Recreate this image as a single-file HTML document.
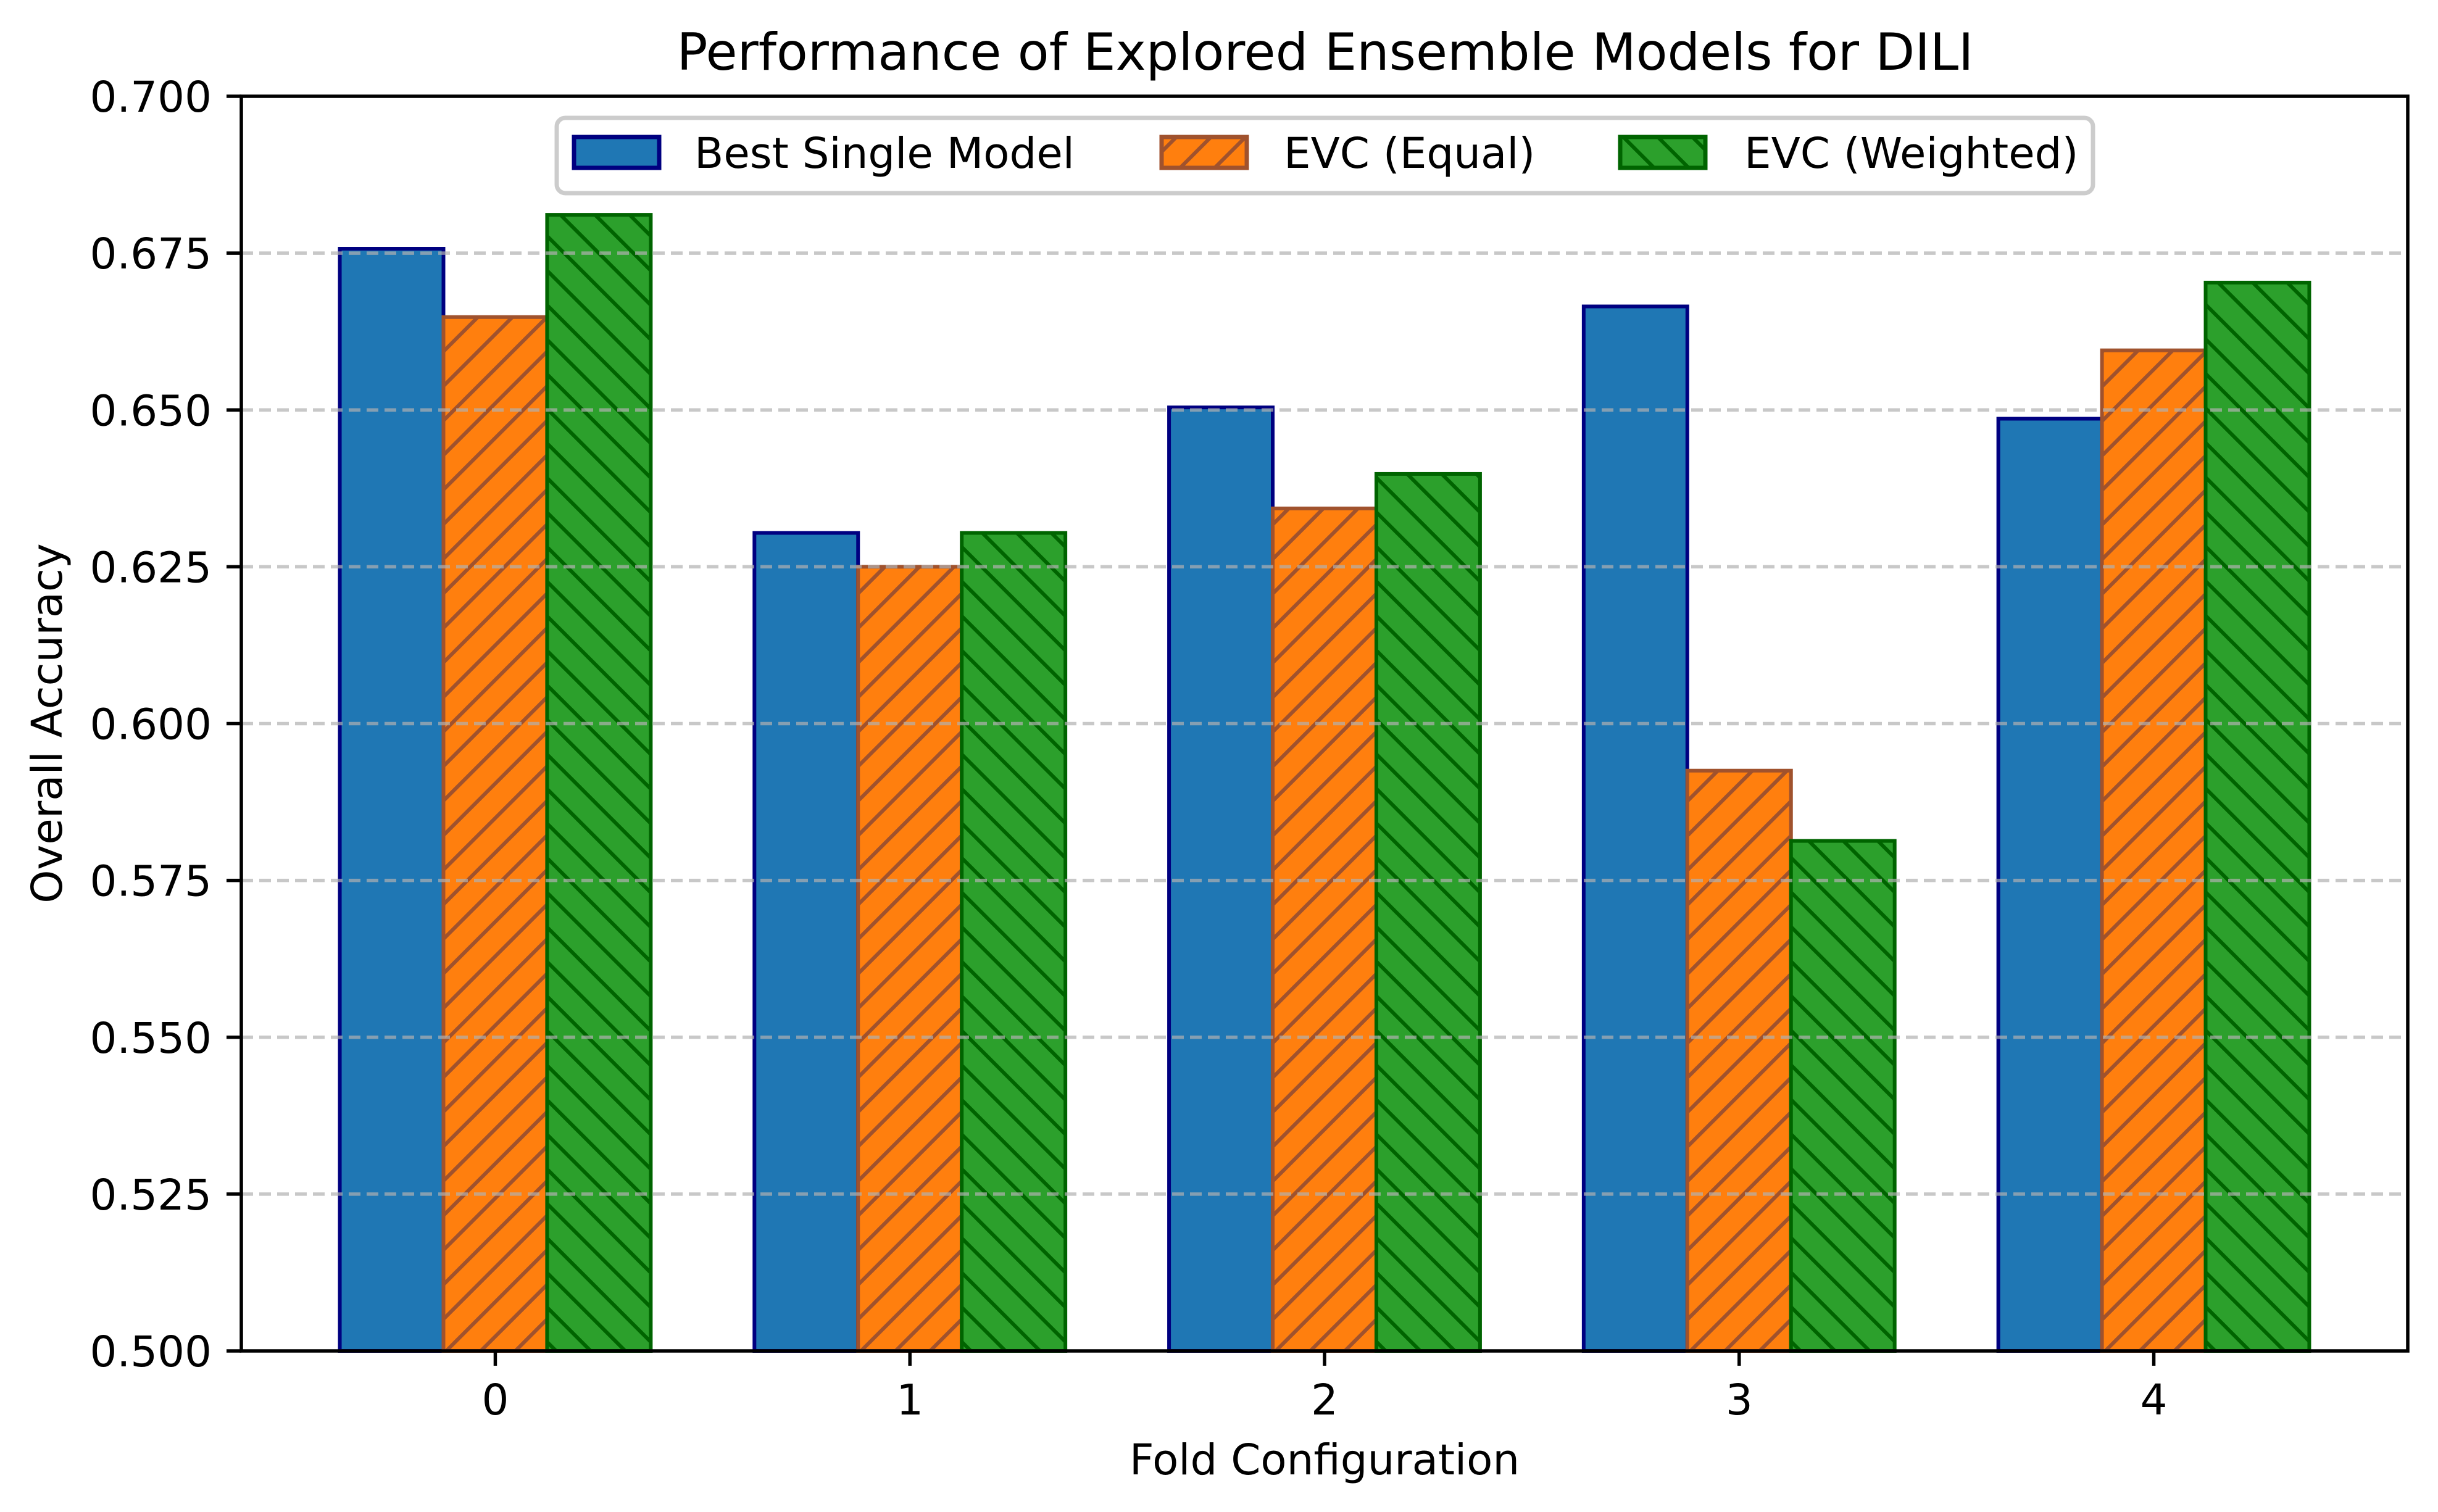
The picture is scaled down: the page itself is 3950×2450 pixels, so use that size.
<!DOCTYPE html>
<html><head><meta charset="utf-8">
<style>
html,body{margin:0;padding:0;background:#fff;}
svg{display:block;font-family:"DejaVu Sans","Liberation Sans",sans-serif;}
</style></head>
<body>
<svg id="chart" width="3950" height="2450" viewBox="0 0 3950 2450" xmlns="http://www.w3.org/2000/svg">
<defs>
<pattern id="hatch-fwd" patternUnits="userSpaceOnUse" width="56" height="56">
<rect width="56" height="56" fill="#ff7f0e"/>
<path d="M-14,14 L14,-14 M0,56 L56,0 M42,70 L70,42" stroke="#a0522d" stroke-width="6"/>
</pattern>
<pattern id="hatch-back" patternUnits="userSpaceOnUse" width="56" height="56">
<rect width="56" height="56" fill="#2ca02c"/>
<path d="M-14,42 L14,70 M0,0 L56,56 M42,-14 L70,14" stroke="#006400" stroke-width="6"/>
</pattern>
</defs>
<rect width="3950" height="2450" fill="#fff"/>
<text x="2147" y="113" font-size="83" text-anchor="middle">Performance of Explored Ensemble Models for DILI</text>
<g id="bars"></g>
<g id="grid"></g>
<g id="axes"></g>
<text x="2146" y="2389" font-size="69" text-anchor="middle">Fold Configuration</text>
<text transform="translate(100,1172) rotate(-90)" font-size="69" text-anchor="middle">Overall Accuracy</text>
<g id="legend">
<rect x="902" y="191" width="2489" height="122" rx="14" fill="#fff" fill-opacity="0.8" stroke="#cccccc" stroke-width="7"/>
<g>
<rect x="930" y="222" width="138" height="50" fill="#1f77b4" stroke="#000080" stroke-width="7"/>
<text x="1125" y="272" font-size="69">Best Single Model</text></g>
<g>
<rect x="1882" y="222" width="138" height="50" fill="url(#hatch-fwd)" stroke="#a0522d" stroke-width="7"/>
<text x="2080" y="272" font-size="69">EVC (Equal)</text></g>
<g>
<rect x="2625" y="222" width="138" height="50" fill="url(#hatch-back)" stroke="#006400" stroke-width="7"/>
<text x="2826" y="272" font-size="69">EVC (Weighted)</text></g>
</g>
</svg>
<script>
const folds = ["0","1","2","3","4"];
const bestSingle = [0.6757, 0.6304, 0.6504, 0.6665, 0.6486];
const evcEqual = [0.6648, 0.6250, 0.6343, 0.5925, 0.6595];
const evcWeighted = [0.6811, 0.6304, 0.6398, 0.5813, 0.6703];
const yTicks = [0.500, 0.525, 0.550, 0.575, 0.600, 0.625, 0.650, 0.675, 0.700];
const yTickLabels = ["0.500","0.525","0.550","0.575","0.600","0.625","0.650","0.675","0.700"];

const NS = "http://www.w3.org/2000/svg";
const L = 391, R = 3901, T = 156, B = 2189;
const xMin = -0.6125, xMax = 4.6125, yMin = 0.5, yMax = 0.7;
function xs(v){ return L + (v - xMin) / (xMax - xMin) * (R - L); }
function ys(v){ return B - (v - yMin) / (yMax - yMin) * (B - T); }
function mk(tag, attrs, parent){ const e = document.createElementNS(NS, tag); for (const k in attrs) e.setAttribute(k, attrs[k]); parent.appendChild(e); return e; }

const barsG = document.getElementById('bars');
const series = [
  {vals: bestSingle, fill: "#1f77b4", stroke: "#000080", off: -0.25, key: "best-single"},
  {vals: evcEqual, fill: "url(#hatch-fwd)", stroke: "#a0522d", off: 0, key: "evc-equal"},
  {vals: evcWeighted, fill: "url(#hatch-back)", stroke: "#006400", off: 0.25, key: "evc-weighted"}
];
const bw = 0.25;
series.forEach(s => {
  s.vals.forEach((v, i) => {
    const x0 = xs(i + s.off - bw/2), x1 = xs(i + s.off + bw/2);
    const y0 = ys(v);
    const r = mk('rect', {x: x0, y: y0, width: x1 - x0, height: B - y0, fill: s.fill, stroke: s.stroke, 'stroke-width': 6}, barsG);
    
    
  });
});

const gridG = document.getElementById('grid');
yTicks.forEach((t, i) => {
  if (i === 0 || i === yTicks.length - 1) return;
  const l = mk('line', {x1: L, x2: R, y1: ys(t), y2: ys(t), stroke: "#b0b0b0", 'stroke-opacity': 0.7, 'stroke-width': 5.5, 'stroke-dasharray': '19 10'}, gridG);
  
  
});

const axG = document.getElementById('axes');
const frame = mk('rect', {x: L, y: T, width: R - L, height: B - T, fill: 'none', stroke: '#000', 'stroke-width': 5.5}, axG);


yTicks.forEach((t, i) => {
  const y = ys(t);
  const tk = mk('line', {x1: L - 24, x2: L, y1: y, y2: y, stroke: '#000', 'stroke-width': 5.5}, axG);
  
  
  const tx = mk('text', {x: L - 48, y: y + 25, 'font-size': 69, 'text-anchor': 'end'}, axG);
  tx.textContent = yTickLabels[i];
  
  
});
folds.forEach((f, i) => {
  const x = xs(i);
  const tk = mk('line', {x1: x, x2: x, y1: B, y2: B + 24, stroke: '#000', 'stroke-width': 5.5}, axG);
  
  
  const tx = mk('text', {x: x, y: B + 103, 'font-size': 69, 'text-anchor': 'middle'}, axG);
  tx.textContent = f;
  
  
});
</script>
</body></html>
